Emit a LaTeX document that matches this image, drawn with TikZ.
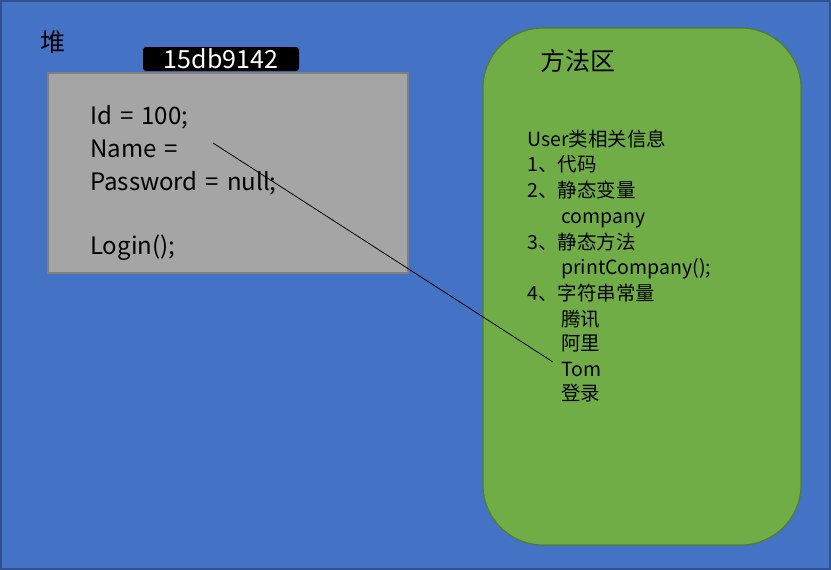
\documentclass[tikz,border=0pt]{standalone}
\usepackage{fontspec}
\setmainfont{Noto Sans CJK SC}
\newcommand\heapfnt{\fontsize{24}{28}\selectfont\spaceskip=8pt\relax}
\begin{document}
\begin{tikzpicture}[x=1pt,y=-1pt,
  heaptxt/.style={anchor=base west,inner sep=0pt,font=\heapfnt},
  mtxt/.style={anchor=base west,inner sep=0pt,font=\fontsize{19.5}{22}\selectfont},
  title/.style={anchor=base west,inner sep=0pt,font=\fontsize{25}{28}\selectfont}]
\useasboundingbox (0,0) rectangle (831,570);
\draw[fill={rgb,255:red,68;green,114;blue,196},draw={rgb,255:red,47;green,82;blue,143},line width=1.2pt] (1,1) rectangle (830,569);
\node[title] (heap) at (40,52) {堆};
\draw[fill={rgb,255:red,165;green,165;blue,165},draw={rgb,255:red,127;green,127;blue,127},line width=1.5pt] (48,73) rectangle (408,273);
\node[fill=black,rounded corners=3pt,minimum width=156pt,minimum height=24pt,inner sep=0pt,text=white,font=\fontsize{25}{26}\selectfont] (addr) at (221,59) {15db9142};
\node[heaptxt] (id) at (90,124) {Id = 100;};
\node[heaptxt] (nm) at (90,157) {Name =};
\node[heaptxt] (pw) at (90,190) {Password = null;};
\node[heaptxt] (lg) at (90,254) {Login();};
\draw[fill={rgb,255:red,112;green,173;blue,71},draw={rgb,255:red,80;green,126;blue,50},line width=1.2pt,rounded corners=60pt] (483,28) rectangle (801,545);
\node[title] (ma) at (540,70) {方法区};
\node[mtxt] (l1) at (527,146) {User类相关信息};
\node[mtxt] (l2) at (527,171) {1、代码};
\node[mtxt] (l3) at (527,197) {2、静态变量};
\node[mtxt] (l4) at (561,223) {company};
\node[mtxt] (l5) at (527,249) {3、静态方法};
\node[mtxt] (l6) at (561,274) {printCompany();};
\node[mtxt] (l7) at (527,300) {4、字符串常量};
\node[mtxt] (l8) at (561,326) {腾讯};
\node[mtxt] (l9) at (561,350) {阿里};
\node[mtxt] (tom) at (561,376) {Tom};
\node[mtxt] (l11) at (561,400) {登录};
\coordinate (nref) at (213,143);
\coordinate (tref) at (553,362);
\draw[line width=0.8pt] (nref) -- (tref);
\end{tikzpicture}
\end{document}
